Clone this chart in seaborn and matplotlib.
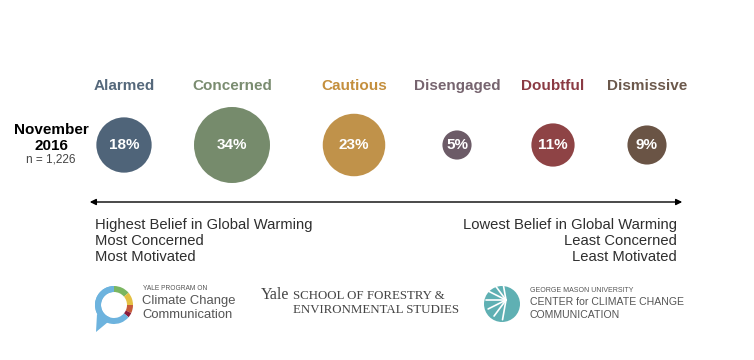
import numpy as np
import pandas as pd
import seaborn as sns
import matplotlib.pyplot as plt
from matplotlib.patches import Wedge, Circle, Polygon

# Global warming's six Americas, November 2016
segments = ['Alarmed', 'Concerned', 'Cautious', 'Disengaged', 'Doubtful',
            'Dismissive']
percent = [18, 34, 23, 5, 11, 9]
fill_colors = ['#4f6479', '#768b6c', '#c0924a', '#6c5b67', '#8e4345',
               '#6a5445']
label_colors = ['#55687b', '#7a8c70', '#c48f3d', '#76646f', '#8b3b44',
                '#6b584b']
left_lines = ['Highest Belief in Global Warming', 'Most Concerned',
              'Most Motivated']
right_lines = ['Lowest Belief in Global Warming', 'Least Concerned',
               'Least Motivated']

sns.set_style('white')
plt.rcParams['font.family'] = ['Liberation Sans', 'DejaVu Sans']

fig = plt.figure(figsize=(7.54, 3.6), dpi=100)
ax = fig.add_axes([0, 0, 1, 1])

# circle centres along the row (pixels)
df = pd.DataFrame({'segment': segments, 'pct': percent,
                   'x': [124, 232, 354, 457, 553, 647],
                   'y': [145] * 6})

# bubble area proportional to share; 34% -> radius 38 px
k = (2 * 38 * 0.72) ** 2 / 34
sns.scatterplot(data=df, x='x', y='y', hue='segment', size='pct',
                palette=fill_colors, sizes=(k * 5, k * 34),
                size_norm=(5, 34), legend=False, linewidth=0, ax=ax)
ax.set_xlim(0, 754)
ax.set_ylim(360, 0)
ax.axis('off')

for i, row in df.iterrows():
    ax.text(row['x'], 86, row['segment'], ha='center', va='center',
            fontsize=11, fontweight='bold', color=label_colors[i])
    ax.text(row['x'], row['y'], f"{row['pct']}%", ha='center',
            va='center', fontsize=11, fontweight='bold', color='white')

ax.text(51, 130, 'November', ha='center', va='center', fontsize=11,
        fontweight='bold', color='black')
ax.text(51, 146, '2016', ha='center', va='center', fontsize=11,
        fontweight='bold', color='black')
ax.text(51, 160, 'n = 1,226', ha='center', va='center', fontsize=8.5,
        color='#444444')

ax.annotate('', xy=(685, 202), xytext=(87, 202),
            arrowprops=dict(arrowstyle='<|-|>', color='black', lw=1,
                            mutation_scale=9))

for j, (l, r) in enumerate(zip(left_lines, right_lines)):
    ax.text(95, 225 + 16 * j, l, ha='left', va='center', fontsize=10.6,
            color='#2e2e2e')
    ax.text(677, 225 + 16 * j, r, ha='right', va='center', fontsize=10.6,
            color='#2e2e2e')

# logo 1: Yale Program on Climate Change Communication
ax.add_patch(Polygon([(97, 314), (108, 322), (96, 332)], closed=True,
                     color='#6db3de', lw=0))
ring = [(90, 250, '#6db3de'), (40, 90, '#7bb661'), (0, 40, '#e4c042'),
        (-25, 0, '#c65a3a'), (-40, -25, '#8b1d3b')]
for t1, t2, c in ring:
    ax.add_patch(Wedge((114, 305), 19, -t2, -t1, width=6, color=c, lw=0))
ax.add_patch(Wedge((114, 305), 19, 40, 270, width=6, color='#6db3de',
                   lw=0))
ax.text(143, 289, 'YALE PROGRAM ON', fontsize=4.8, color='#555555',
        va='center')
ax.text(142, 301, 'Climate Change', fontsize=9.4, color='#555555',
        va='center')
ax.text(142, 315, 'Communication', fontsize=9.4, color='#555555',
        va='center')

# logo 2: Yale School of Forestry
ax.text(261, 295, 'Yale', fontsize=11.5, family='Liberation Serif',
        color='#444444', va='center')
ax.text(293, 296, 'SCHOOL OF FORESTRY &', fontsize=9.3,
        family='Liberation Serif', color='#444444', va='center')
ax.text(293, 310, 'ENVIRONMENTAL STUDIES', fontsize=9.3,
        family='Liberation Serif', color='#444444', va='center')

# logo 3: George Mason University
ax.add_patch(Circle((502, 304), 18, color='#5fb0b3', lw=0))
for ang in np.linspace(100, 260, 7):
    a = np.radians(ang)
    ax.plot([506, 506 + 20 * np.cos(a)], [300, 300 + 20 * np.sin(a)],
            color='white', lw=1.2)
ax.text(530, 290, 'GEORGE MASON UNIVERSITY', fontsize=5, color='#555555',
        va='center')
ax.text(530, 302, 'CENTER for CLIMATE CHANGE', fontsize=7.6,
        color='#555555', va='center')
ax.text(530, 315, 'COMMUNICATION', fontsize=7.6, color='#555555',
        va='center')

fig.savefig('out.png', dpi=100, facecolor='white')
